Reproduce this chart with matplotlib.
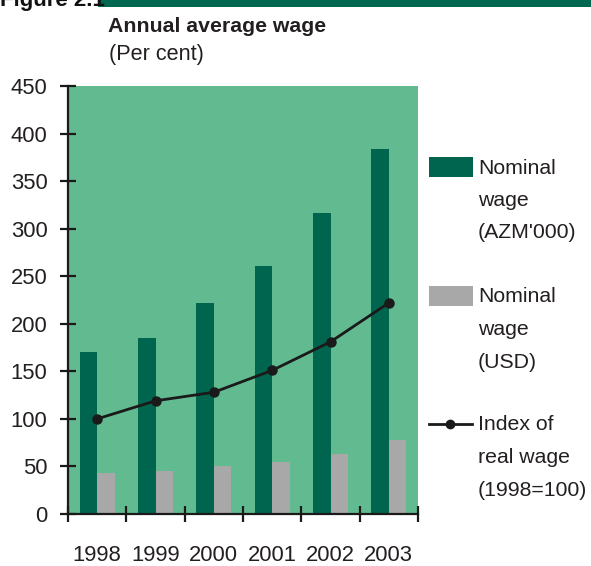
import matplotlib
matplotlib.use("Agg")
import matplotlib.pyplot as plt
from matplotlib.patches import Rectangle
from matplotlib.lines import Line2D
import numpy as np

years = ["1998", "1999", "2000", "2001", "2002", "2003"]
nominal_azm = [170, 185, 222, 261, 316, 384]
nominal_usd = [43, 45, 50, 55, 63, 78]
real_index = [100, 119, 128, 151, 181, 222]
y_ticks = [0, 50, 100, 150, 200, 250, 300, 350, 400, 450]

DARK = "#00654F"
GREEN_BG = "#62BB90"
GRAY = "#A8A8A8"
LINE = "#1A1A1A"
TXT = "#231F20"

regular = ["Liberation Sans", "DejaVu Sans"]

W, H = 591, 566
fig = plt.figure(figsize=(W / 100, H / 100), dpi=100)

def fx(px):
    return px / W

def fy(py):
    return 1 - py / H

ax_l, ax_r, ax_t, ax_b = 68, 418, 86, 514
ax = fig.add_axes([fx(ax_l), fy(ax_b), fx(ax_r - ax_l), (ax_b - ax_t) / H])
ax.set_facecolor(GREEN_BG)

x = np.arange(len(years))
bw = 0.3
ax.bar(x - bw / 2, nominal_azm, width=bw, color=DARK, zorder=2)
ax.bar(x + bw / 2, nominal_usd, width=bw, color=GRAY, zorder=2)
ax.plot(x, real_index, color=LINE, lw=2.0, marker="o", markersize=6.5, zorder=3)

tick_fs = 15.8
ax.set_xlim(-0.5, len(years) - 0.5)
ax.set_ylim(0, 450)
ax.set_yticks(y_ticks)
ax.set_yticklabels([str(v) for v in y_ticks], family=regular, fontsize=tick_fs, color=TXT)
ax.set_xticks(x)
ax.set_xticklabels(years, family=regular, fontsize=tick_fs, color=TXT)
ax.set_xticks(np.arange(-0.5, len(years), 1.0), minor=True)

for s in ["top", "right"]:
    ax.spines[s].set_visible(False)
for s in ["left", "bottom"]:
    ax.spines[s].set_linewidth(1.6)
    ax.spines[s].set_color("#1A1A1A")

ax.tick_params(axis="y", direction="inout", length=11, width=1.6, color="#1A1A1A", pad=9.3)
ax.tick_params(axis="x", which="major", length=0, pad=22.5)
ax.tick_params(axis="x", which="minor", direction="inout", length=11, width=1.6, color="#1A1A1A")

# header
fig.add_artist(Rectangle((fx(98), fy(6.5)), fx(W - 98), 6.5 / H, transform=fig.transFigure,
                         color="#006850", lw=0))
fig.text(fx(0), fy(6), "Figure 2.1", family=regular, fontsize=16, fontweight="bold",
         va="baseline", ha="left", color="#111111")
fig.text(fx(108), fy(32), "Annual average wage", family=regular, fontsize=15.3,
         fontweight="bold", va="baseline", ha="left", color=TXT)
fig.text(fx(109), fy(60), "(Per cent)", family=regular, fontsize=15.6,
         va="baseline", ha="left", color=TXT)

# legend
leg_fs = 15.3
fig.add_artist(Rectangle((fx(429), fy(177)), fx(44), 20 / H, transform=fig.transFigure,
                         color=DARK, lw=0))
fig.add_artist(Rectangle((fx(429), fy(306)), fx(44), 20 / H, transform=fig.transFigure,
                         color=GRAY, lw=0))
fig.add_artist(Line2D([fx(429), fx(472)], [fy(424), fy(424)], transform=fig.transFigure,
                      color=LINE, lw=2.0))
fig.add_artist(Line2D([fx(450)], [fy(424)], transform=fig.transFigure, color=LINE,
                      marker="o", markersize=6, lw=0))

def legend_lines(lines, y0):
    for i, t in enumerate(lines):
        fig.text(fx(478), fy(y0 + i * 32.5), t, family=regular, fontsize=leg_fs,
                 va="center", ha="left", color=TXT)

legend_lines(["Nominal", "wage", "(AZM'000)"], 168)
legend_lines(["Nominal", "wage", "(USD)"], 297)
legend_lines(["Index of", "real wage", "(1998=100)"], 425)

fig.savefig("out.png", dpi=100)
